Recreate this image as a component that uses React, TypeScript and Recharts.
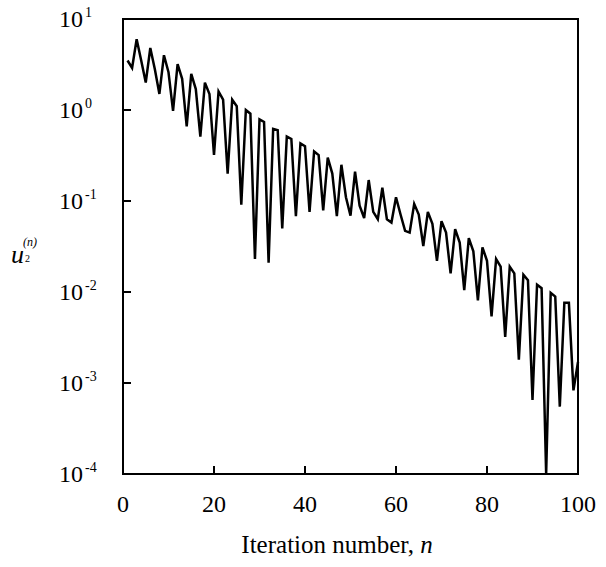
import React from 'react';
import { LineChart, Line, XAxis, YAxis, ReferenceArea } from 'recharts';

// iteration index n
const iterations = [
  1, 2, 3, 4, 5, 6, 7, 8, 9, 10,
  11, 12, 13, 14, 15, 16, 17, 18, 19, 20,
  21, 22, 23, 24, 25, 26, 27, 28, 29, 30,
  31, 32, 33, 34, 35, 36, 37, 38, 39, 40,
  41, 42, 43, 44, 45, 46, 47, 48, 49, 50,
  51, 52, 53, 54, 55, 56, 57, 58, 59, 60,
  61, 62, 63, 64, 65, 66, 67, 68, 69, 70,
  71, 72, 73, 74, 75, 76, 77, 78, 79, 80,
  81, 82, 83, 84, 85, 86, 87, 88, 89, 90,
  91, 92, 93, 94, 95, 96, 97, 98, 99, 100
];

// u2^(n)
const u2Values = [
  3.5, 2.9, 6.0, 3.5, 2.0, 4.8, 2.8, 1.5, 4.0, 2.6,
  0.98, 3.2, 2.2, 0.66, 2.5, 1.7, 0.51, 2.0, 1.5, 0.32,
  1.6, 1.3, 0.2, 1.3, 1.1, 0.091, 1.0, 0.91, 0.023, 0.79,
  0.74, 0.021, 0.62, 0.6, 0.05, 0.51, 0.48, 0.068, 0.43, 0.4,
  0.076, 0.35, 0.32, 0.079, 0.3, 0.2, 0.068, 0.25, 0.11, 0.069,
  0.21, 0.089, 0.065, 0.17, 0.076, 0.063, 0.14, 0.063, 0.058, 0.11,
  0.071, 0.047, 0.045, 0.093, 0.071, 0.032, 0.076, 0.056, 0.022, 0.06,
  0.045, 0.016, 0.049, 0.035, 0.0105, 0.039, 0.028, 0.0081, 0.031, 0.022,
  0.0054, 0.023, 0.019, 0.0032, 0.019, 0.016, 0.0018, 0.0155, 0.0135, 0.00065,
  0.012, 0.011, 0.0001, 0.0098, 0.0089, 0.00055, 0.0076, 0.0076, 0.00083, 0.0017
];

const xTicks = [0, 20, 40, 60, 80, 100];
const yTicks = [0.0001, 0.001, 0.01, 0.1, 1, 10];
const yExponents = ['-4', '-3', '-2', '-1', '0', '1'];

const data = iterations.map((n, i) => ({ n, u2: u2Values[i] }));

const serif = { fontFamily: '"Liberation Serif", "DejaVu Serif", serif' };

const XTick = (props: any) => {
  const { x, y, payload } = props;
  return (
    <g>
      <line x1={x} y1={y} x2={x} y2={y - 8} stroke="#000" strokeWidth={2} />
      <text x={x} y={y + 38} textAnchor="middle" style={serif} fontSize={24} fill="#000">
        {payload.value}
      </text>
    </g>
  );
};

const YTick = (props: any) => {
  const { x, y, index } = props;
  return (
    <g>
      <line x1={x} y1={y} x2={x + 8} y2={y} stroke="#000" strokeWidth={2} />
      <text x={x - 40} y={y + 8} textAnchor="end" style={serif} fontSize={24} fill="#000">
        10
      </text>
      <text x={x - 38} y={y - 2} textAnchor="start" style={serif} fontSize={14} fill="#000">
        {yExponents[index]}
      </text>
    </g>
  );
};

const xTitle = () => (
  <text x={337} y={553} textAnchor="middle" style={serif} fontSize={25} fill="#000">
    Iteration number, <tspan fontStyle="italic">n</tspan>
  </text>
);

const yTitle = () => (
  <g fill="#000">
    <text x={11} y={263} style={serif} fontSize={26} fontStyle="italic">u</text>
    <text x={23} y={246} style={serif} fontSize={12} fontStyle="italic">(n)</text>
    <text x={25} y={262} style={serif} fontSize={10}>2</text>
  </g>
);

export default function App() {
  return (
    <div style={{ position: 'absolute', left: 0, top: 0, width: 606, height: 567, background: '#fff' }}>
      <LineChart
        width={606}
        height={567}
        data={data}
        margin={{ top: 19, right: 28, bottom: 0, left: 0 }}
      >
        <XAxis
          dataKey="n"
          type="number"
          domain={[0, 100]}
          ticks={xTicks}
          height={93}
          tickSize={0}
          tickMargin={0}
          tickLine={false}
          axisLine={{ stroke: '#000', strokeWidth: 2 }}
          tick={<XTick />}
          label={{ content: xTitle }}
        />
        <YAxis
          dataKey="u2"
          scale="log"
          domain={[0.0001, 10]}
          ticks={yTicks}
          allowDataOverflow
          width={123}
          tickSize={0}
          tickMargin={0}
          tickLine={false}
          axisLine={{ stroke: '#000', strokeWidth: 2 }}
          tick={<YTick />}
          label={{ content: yTitle }}
        />
        <ReferenceArea
          x1={0}
          x2={100}
          y1={0.0001}
          y2={10}
          fill="none"
          fillOpacity={0}
          stroke="#000"
          strokeWidth={2}
        />
        <Line
          type="linear"
          dataKey="u2"
          stroke="#000"
          strokeWidth={2.5}
          dot={false}
          isAnimationActive={false}
        />
      </LineChart>
    </div>
  );
}
